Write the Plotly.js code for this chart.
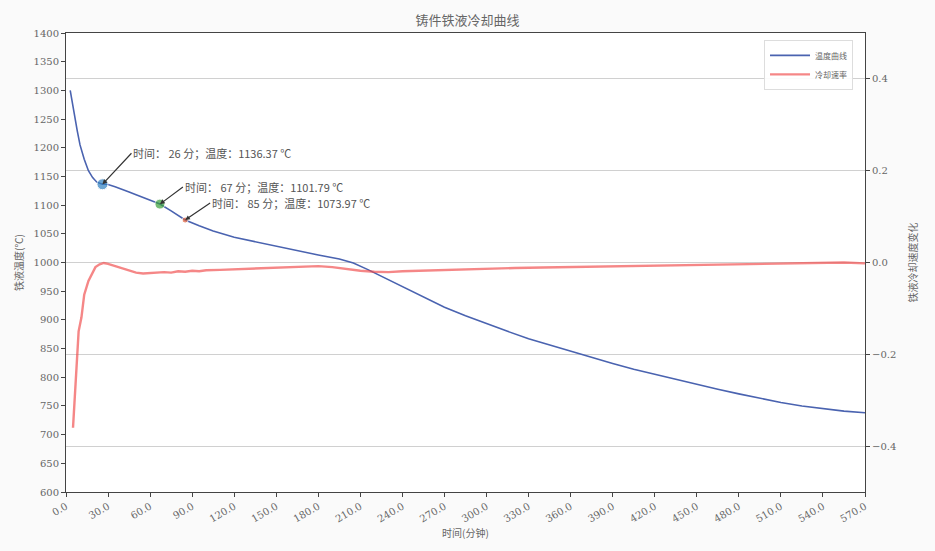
<!DOCTYPE html>
<html><head><meta charset="utf-8">
<script src="https://cdn.plot.ly/plotly-3.0.1.min.js"></script>
<style>html,body{margin:0;padding:0;background:#fff;}#chart{width:935px;height:551px;}</style>
</head><body><div id="chart"></div>
<script>
const titleText = "铸件铁液冷却曲线";
const xTitle = "时间(分钟)";
const yTitle = "铁液温度(℃)";
const y2Title = "铁液冷却速度变化";
const tempName = "温度曲线";
const rateName = "冷却速率";

const tTemp = [3,5,8,10,13,16,19,22,24,26,28,30,35,40,45,50,55,60,67,75,85,95,105,120,135,150,165,180,195,205,215,225,240,255,270,285,300,315,330,345,360,375,390,405,420,435,450,465,480,495,510,525,540,555,570];
const temp = [1300,1270,1230,1205,1180,1160,1148,1140,1137.5,1136.4,1136.5,1136,1132,1128,1123,1118,1113,1108,1101.8,1090,1074,1064,1055,1044,1036,1028,1020,1013,1006,999,988,976,958,940,922,907,893,880,867,856,845,834,824,814,805,796,787,779,771,763,756,750,745,741,738];

const tRate = [5,6,7,8,9,11,13,16,19,21,24,27,30,33,36,40,45,50,55,60,65,70,75,80,85,90,95,100,110,120,130,140,150,160,170,180,190,200,210,220,230,240,250,260,270,280,290,300,320,340,360,380,400,420,440,460,480,500,520,540,555,570];
const rate = [-0.36,-0.30,-0.24,-0.19,-0.15,-0.12,-0.07,-0.04,-0.02,-0.01,-0.004,-0.001,-0.003,-0.006,-0.008,-0.012,-0.018,-0.022,-0.024,-0.023,-0.022,-0.021,-0.022,-0.019,-0.020,-0.018,-0.019,-0.017,-0.016,-0.015,-0.014,-0.013,-0.012,-0.010,-0.009,-0.008,-0.010,-0.014,-0.018,-0.020,-0.021,-0.019,-0.018,-0.017,-0.016,-0.015,-0.014,-0.013,-0.012,-0.011,-0.010,-0.009,-0.008,-0.007,-0.006,-0.005,-0.004,-0.003,-0.002,-0.001,0.000,-0.002];

const markT = [26,67,85];
const markV = [1136.37,1101.79,1073.97];
const markColors = ["#2f7fc0","#3aa03a","#e0603a"];
const markLabels = ["时间： 26 分；温度：1136.37 ℃","时间： 67 分；温度：1101.79 ℃","时间： 85 分；温度：1073.97 ℃"];

const txtColor = "#666";
const serif = "DejaVu Serif, serif";
const cjk = "Noto Sans CJK SC, sans-serif";

const traces = [
  {x:tTemp, y:temp, type:"scatter", mode:"lines", name:tempName, line:{color:"#4a63b0", width:1.6}},
  {x:tRate, y:rate, type:"scatter", mode:"lines", name:rateName, yaxis:"y2", line:{color:"rgba(240,70,70,0.65)", width:2.4}},
  {x:markT, y:markV, type:"scatter", mode:"markers", showlegend:false,
   marker:{color:markColors, size:[11,10,6]}}
];

const offsets = [[29,-31],[23,-17],[25,-17]];
const annotations = markT.map((t,i)=>({
  x:t, y:markV[i], xref:"x", yref:"y", text:markLabels[i], showarrow:true,
  ax:offsets[i][0], ay:offsets[i][1], xanchor:"left", yanchor:"middle",
  arrowhead:2, arrowsize:0.8, arrowwidth:1.2, arrowcolor:"#333",
  font:{family:cjk, size:11, color:"#555"}
}));

const layout = {
  width:935, height:551,
  margin:{l:66, r:70, t:33, b:59},
  paper_bgcolor:"#fafafa", plot_bgcolor:"#fff",
  title:{text:titleText, x:0.5, xanchor:"center", y:0.972, font:{family:cjk, size:13, color:txtColor}},
  showlegend:true,
  legend:{x:0.985, y:0.985, xanchor:"right", yanchor:"top", bgcolor:"rgba(255,255,255,0.9)",
    bordercolor:"#ddd", borderwidth:1, itemwidth:40, font:{family:cjk, size:8, color:txtColor}},
  xaxis:{range:[0,570], dtick:30, tick0:0, tickformat:".1f", tickangle:-30,
    showgrid:false, zeroline:false, showline:true, linecolor:"#444", mirror:true,
    ticks:"outside", ticklen:4, tickcolor:"#444",
    tickfont:{family:serif, size:10, color:txtColor},
    title:{text:xTitle, font:{family:cjk, size:10, color:txtColor}, standoff:6}},
  yaxis:{range:[600,1400], dtick:50, tick0:600, showgrid:false, zeroline:false,
    showline:true, linecolor:"#444", ticks:"outside", ticklen:4, tickcolor:"#444",
    tickfont:{family:serif, size:10, color:txtColor},
    title:{text:yTitle, font:{family:cjk, size:10, color:txtColor}, standoff:8}},
  yaxis2:{range:[-0.5,0.5], dtick:0.2, tick0:0, tickformat:".1f", overlaying:"y", side:"right",
    showgrid:true, gridcolor:"#d0d0d0", gridwidth:1, zeroline:false,
    showline:true, linecolor:"#444", ticks:"outside", ticklen:4, tickcolor:"#444",
    tickfont:{family:serif, size:10, color:txtColor},
    title:{text:y2Title, font:{family:cjk, size:10, color:txtColor}, standoff:14}},
  annotations:annotations
};

Plotly.newPlot("chart", traces, layout, {displayModeBar:false, staticPlot:true});
</script></body></html>
